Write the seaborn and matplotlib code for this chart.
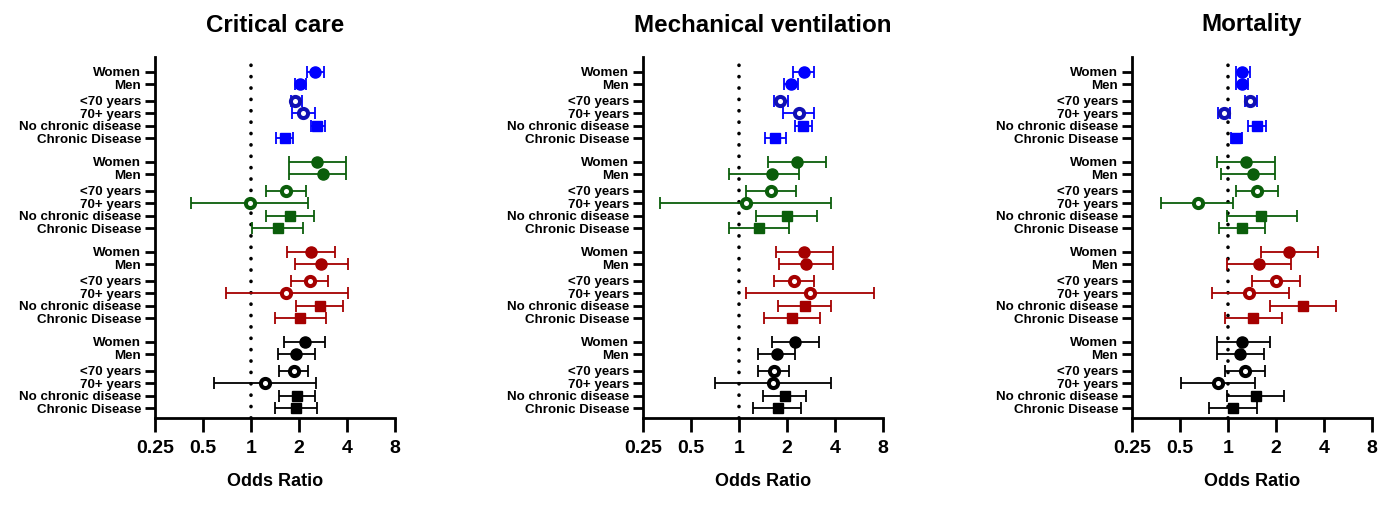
import numpy as np
import matplotlib
matplotlib.use("Agg")
import matplotlib.pyplot as plt
import seaborn as sns

subgroups = ['Women', 'Men', '<70 years', '70+ years', 'No chronic disease', 'Chronic Disease']
markers = ['o', 'o', 'o', 'o', 's', 's']
hollow = [False, False, True, True, False, False]
group_colors = ['#0000ff', '#0b5e0b', '#a50000', '#000000']
hollow_colors = ['#1010b4', '#0b5e0b', '#a50000', '#000000']

titles = ['Critical care', 'Mechanical ventilation', 'Mortality']

# critical care
or_cc = [2.51, 2.04, 1.90, 2.13, 2.61, 1.63,
         2.60, 2.81, 1.66, 0.98, 1.76, 1.47,
         2.39, 2.75, 2.33, 1.66, 2.70, 2.04,
         2.17, 1.92, 1.85, 1.23, 1.93, 1.92]
lo_cc = [2.25, 1.88, 1.77, 1.82, 2.37, 1.44,
         1.72, 1.72, 1.24, 0.42, 1.24, 1.01,
         1.69, 1.89, 1.77, 0.70, 1.91, 1.42,
         1.61, 1.47, 1.50, 0.59, 1.49, 1.42]
hi_cc = [2.88, 2.22, 2.09, 2.51, 2.93, 1.84,
         3.92, 3.92, 2.21, 2.27, 2.49, 2.13,
         3.37, 4.04, 3.06, 4.04, 3.79, 2.94,
         2.93, 2.53, 2.27, 2.57, 2.53, 2.60]

# mechanical ventilation
or_mv = [2.54, 2.12, 1.82, 2.37, 2.52, 1.69,
         2.32, 1.62, 1.59, 1.10, 1.99, 1.33,
         2.57, 2.62, 2.21, 2.79, 2.58, 2.16,
         2.26, 1.73, 1.65, 1.64, 1.93, 1.75]
lo_mv = [2.17, 1.92, 1.65, 1.89, 2.23, 1.45,
         1.52, 0.86, 1.11, 0.32, 1.27, 0.87,
         1.71, 1.78, 1.65, 1.10, 1.75, 1.43,
         1.62, 1.31, 1.31, 0.71, 1.42, 1.23]
hi_mv = [2.97, 2.36, 2.02, 2.97, 2.87, 1.98,
         3.53, 2.38, 2.28, 3.75, 3.09, 2.06,
         3.89, 3.90, 2.96, 7.04, 3.79, 3.24,
         3.16, 2.26, 2.06, 3.75, 2.64, 2.45]

# mortality
or_mo = [1.22, 1.22, 1.38, 0.94, 1.51, 1.13,
         1.29, 1.44, 1.52, 0.65, 1.62, 1.22,
         2.41, 1.57, 2.00, 1.36, 2.95, 1.44,
         1.22, 1.19, 1.28, 0.86, 1.49, 1.07]
lo_mo = [1.12, 1.13, 1.27, 0.87, 1.33, 1.05,
         0.85, 0.90, 1.12, 0.38, 0.98, 0.88,
         1.60, 0.99, 1.42, 0.79, 1.84, 0.96,
         0.85, 0.85, 0.96, 0.51, 0.99, 0.76]
hi_mo = [1.37, 1.34, 1.52, 1.03, 1.73, 1.22,
         1.97, 1.97, 2.06, 1.08, 2.70, 1.70,
         3.65, 2.47, 2.84, 2.41, 4.73, 2.19,
         1.83, 1.69, 1.70, 1.47, 2.24, 1.52]

xticks = [0.25, 0.5, 1, 2, 4, 8]
xtick_labels = ['0.25', '0.5', '1', '2', '4', '8']

sns.set_style('ticks')
plt.rcParams['font.family'] = ['Liberation Sans', 'DejaVu Sans']
plt.rcParams['font.weight'] = 'bold'
for key in ['text.color', 'axes.labelcolor', 'xtick.color', 'ytick.color', 'axes.edgecolor']:
    plt.rcParams[key] = 'black'

# row positions: small gap between sex / age / chronic pairs, larger gap between colour groups
within = [0, 1, 2.3, 3.3, 4.3, 5.3]
group_step = 7.22
ypos = [g * group_step + w for g in range(4) for w in within]

fig = plt.figure(figsize=(13.92, 5.23), dpi=100)
W, H = 1392, 523
lefts = [155, 643, 1132]
top_px, bot_px = 57, 418

panels = [(or_cc, lo_cc, hi_cc), (or_mv, lo_mv, hi_mv), (or_mo, lo_mo, hi_mo)]

for k, (ors, los, his) in enumerate(panels):
    ax = fig.add_axes([lefts[k] / W, 1 - bot_px / H, 240 / W, (bot_px - top_px) / H])
    ax.set_xscale('log', base=2)
    ax.set_xlim(0.25, 8)
    ax.set_ylim(ypos[-1] + 0.8, -1.2)

    ax.axvline(1, color='black', lw=2.6, ls=(0, (0.05, 3.1)), dash_capstyle='round', zorder=1)

    for i in range(len(ors)):
        g = i // 6
        j = i % 6
        col = group_colors[g]
        ax.errorbar(ors[i], ypos[i], xerr=[[ors[i] - los[i]], [his[i] - ors[i]]],
                    fmt='none', ecolor=col, elinewidth=1.3, capsize=4.5, capthick=1.3, zorder=2)
        if hollow[j]:
            hc = hollow_colors[g]
            ax.plot(ors[i], ypos[i], marker='o', ms=6.6, mfc='white', mec=hc, mew=2.9, ls='none', zorder=3)
        else:
            ms = 8 if markers[j] == 'o' else 6.8
            ax.plot(ors[i], ypos[i], marker=markers[j], ms=ms, color=col, mec=col, ls='none', zorder=3)

    ax.set_yticks(ypos)
    ax.set_yticklabels(subgroups * 4, fontsize=9.6, fontweight='bold')
    ax.set_xticks(xticks)
    ax.set_xticklabels(xtick_labels, fontsize=14, fontweight='bold')
    ax.xaxis.set_minor_locator(matplotlib.ticker.NullLocator())
    ax.tick_params(axis='x', length=10, width=2, pad=6)
    ax.tick_params(axis='y', length=7, width=2, pad=3)
    sns.despine(ax=ax)
    for s in ['left', 'bottom']:
        ax.spines[s].set_linewidth(2)
    ax.set_xlabel('Odds Ratio', fontsize=13, fontweight='bold', labelpad=11)
    fig.text((lefts[k] + 120) / W, 1 - 25 / H, titles[k], fontsize=17.4, fontweight='bold',
             ha='center', va='center')

fig.savefig('out.png', dpi=100)
